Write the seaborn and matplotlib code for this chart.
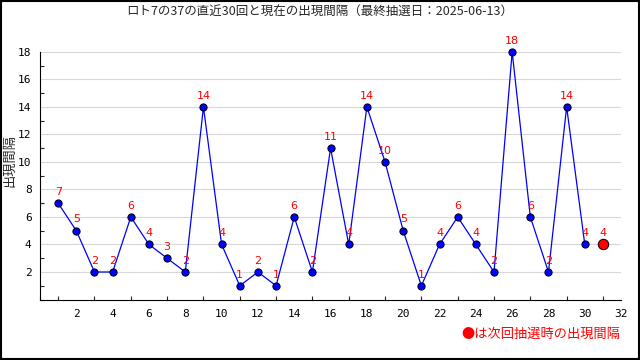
import pandas as pd
import seaborn as sns
import matplotlib.pyplot as plt
from matplotlib.ticker import MultipleLocator
from matplotlib.patches import Rectangle

draws = list(range(1, 31))
intervals = [7, 5, 2, 2, 6, 4, 3, 2, 14, 4, 1, 2, 1, 6, 2, 11, 4, 14, 10, 5,
             1, 4, 6, 4, 2, 18, 6, 2, 14, 4]
next_draw = 31
current_interval = 4

title = "ロト7の37の直近30回と現在の出現間隔（最終抽選日：2025-06-13）"

df = pd.DataFrame({"draw": draws, "interval": intervals})

sns.set_theme(style="white")
plt.rcParams['font.family'] = ['Noto Sans CJK JP', 'DejaVu Sans']

fig = plt.figure(figsize=(6.4, 3.6), dpi=100)
ax = fig.add_axes([0.0625, 0.168, 0.908, 0.688])

sns.lineplot(data=df, x="draw", y="interval", ax=ax, color="blue", lw=0.9,
             marker="o", markersize=5.2, markerfacecolor="blue",
             markeredgecolor="black", markeredgewidth=0.7, zorder=3, clip_on=False)
ax.plot([next_draw], [current_interval], "o", color="red", markersize=7.5,
        markeredgecolor="black", markeredgewidth=0.7, zorder=4)

for x, y in zip(draws + [next_draw], intervals + [current_interval]):
    ax.annotate(str(y), (x, y), xytext=(0, 4.5), textcoords="offset points",
                ha="center", va="bottom", color="red", fontsize=8,
                family="DejaVu Sans", annotation_clip=False)

ax.set_xlim(0, 32)
ax.set_ylim(0, 18)
ax.xaxis.set_minor_locator(MultipleLocator(1))
ax.yaxis.set_minor_locator(MultipleLocator(1))
ax.set_xticks([t for t in range(2, 33, 2)])
ax.set_yticks([t for t in range(2, 19, 2)])
ax.tick_params(axis="both", which="major", direction="in", length=5, width=0.8,
               labelsize=8, colors="black")
ax.tick_params(axis="both", which="minor", direction="in", length=3, width=0.8,
               bottom=True, left=True)
ax.tick_params(axis="x", pad=7)
ax.tick_params(axis="y", pad=6)
for lab in ax.get_xticklabels() + ax.get_yticklabels():
    lab.set_family("DejaVu Sans Mono")
ax.grid(axis="y", which="major", color="#d8d8d8", lw=0.8)
ax.set_axisbelow(True)
for s in ["top", "right"]:
    ax.spines[s].set_visible(False)
for s in ["left", "bottom"]:
    ax.spines[s].set_color("black")
    ax.spines[s].set_linewidth(0.8)

ax.set_xlabel("")
ax.set_ylabel("")
fig.text(0.016, 0.555, "出現間隔", rotation=90, ha="center", va="center", fontsize=9.5)
fig.text(0.5, 0.965, title, ha="center", va="center", fontsize=9)
fig.text(0.97, 0.07, "●は次回抽選時の出現間隔", ha="right", va="center",
         color="red", fontsize=9.5)

fig.patches.append(Rectangle((0.002, 0.003), 0.996, 0.994, transform=fig.transFigure,
                             fill=False, edgecolor="black", lw=1.5))

fig.savefig("out.png", dpi=100)
